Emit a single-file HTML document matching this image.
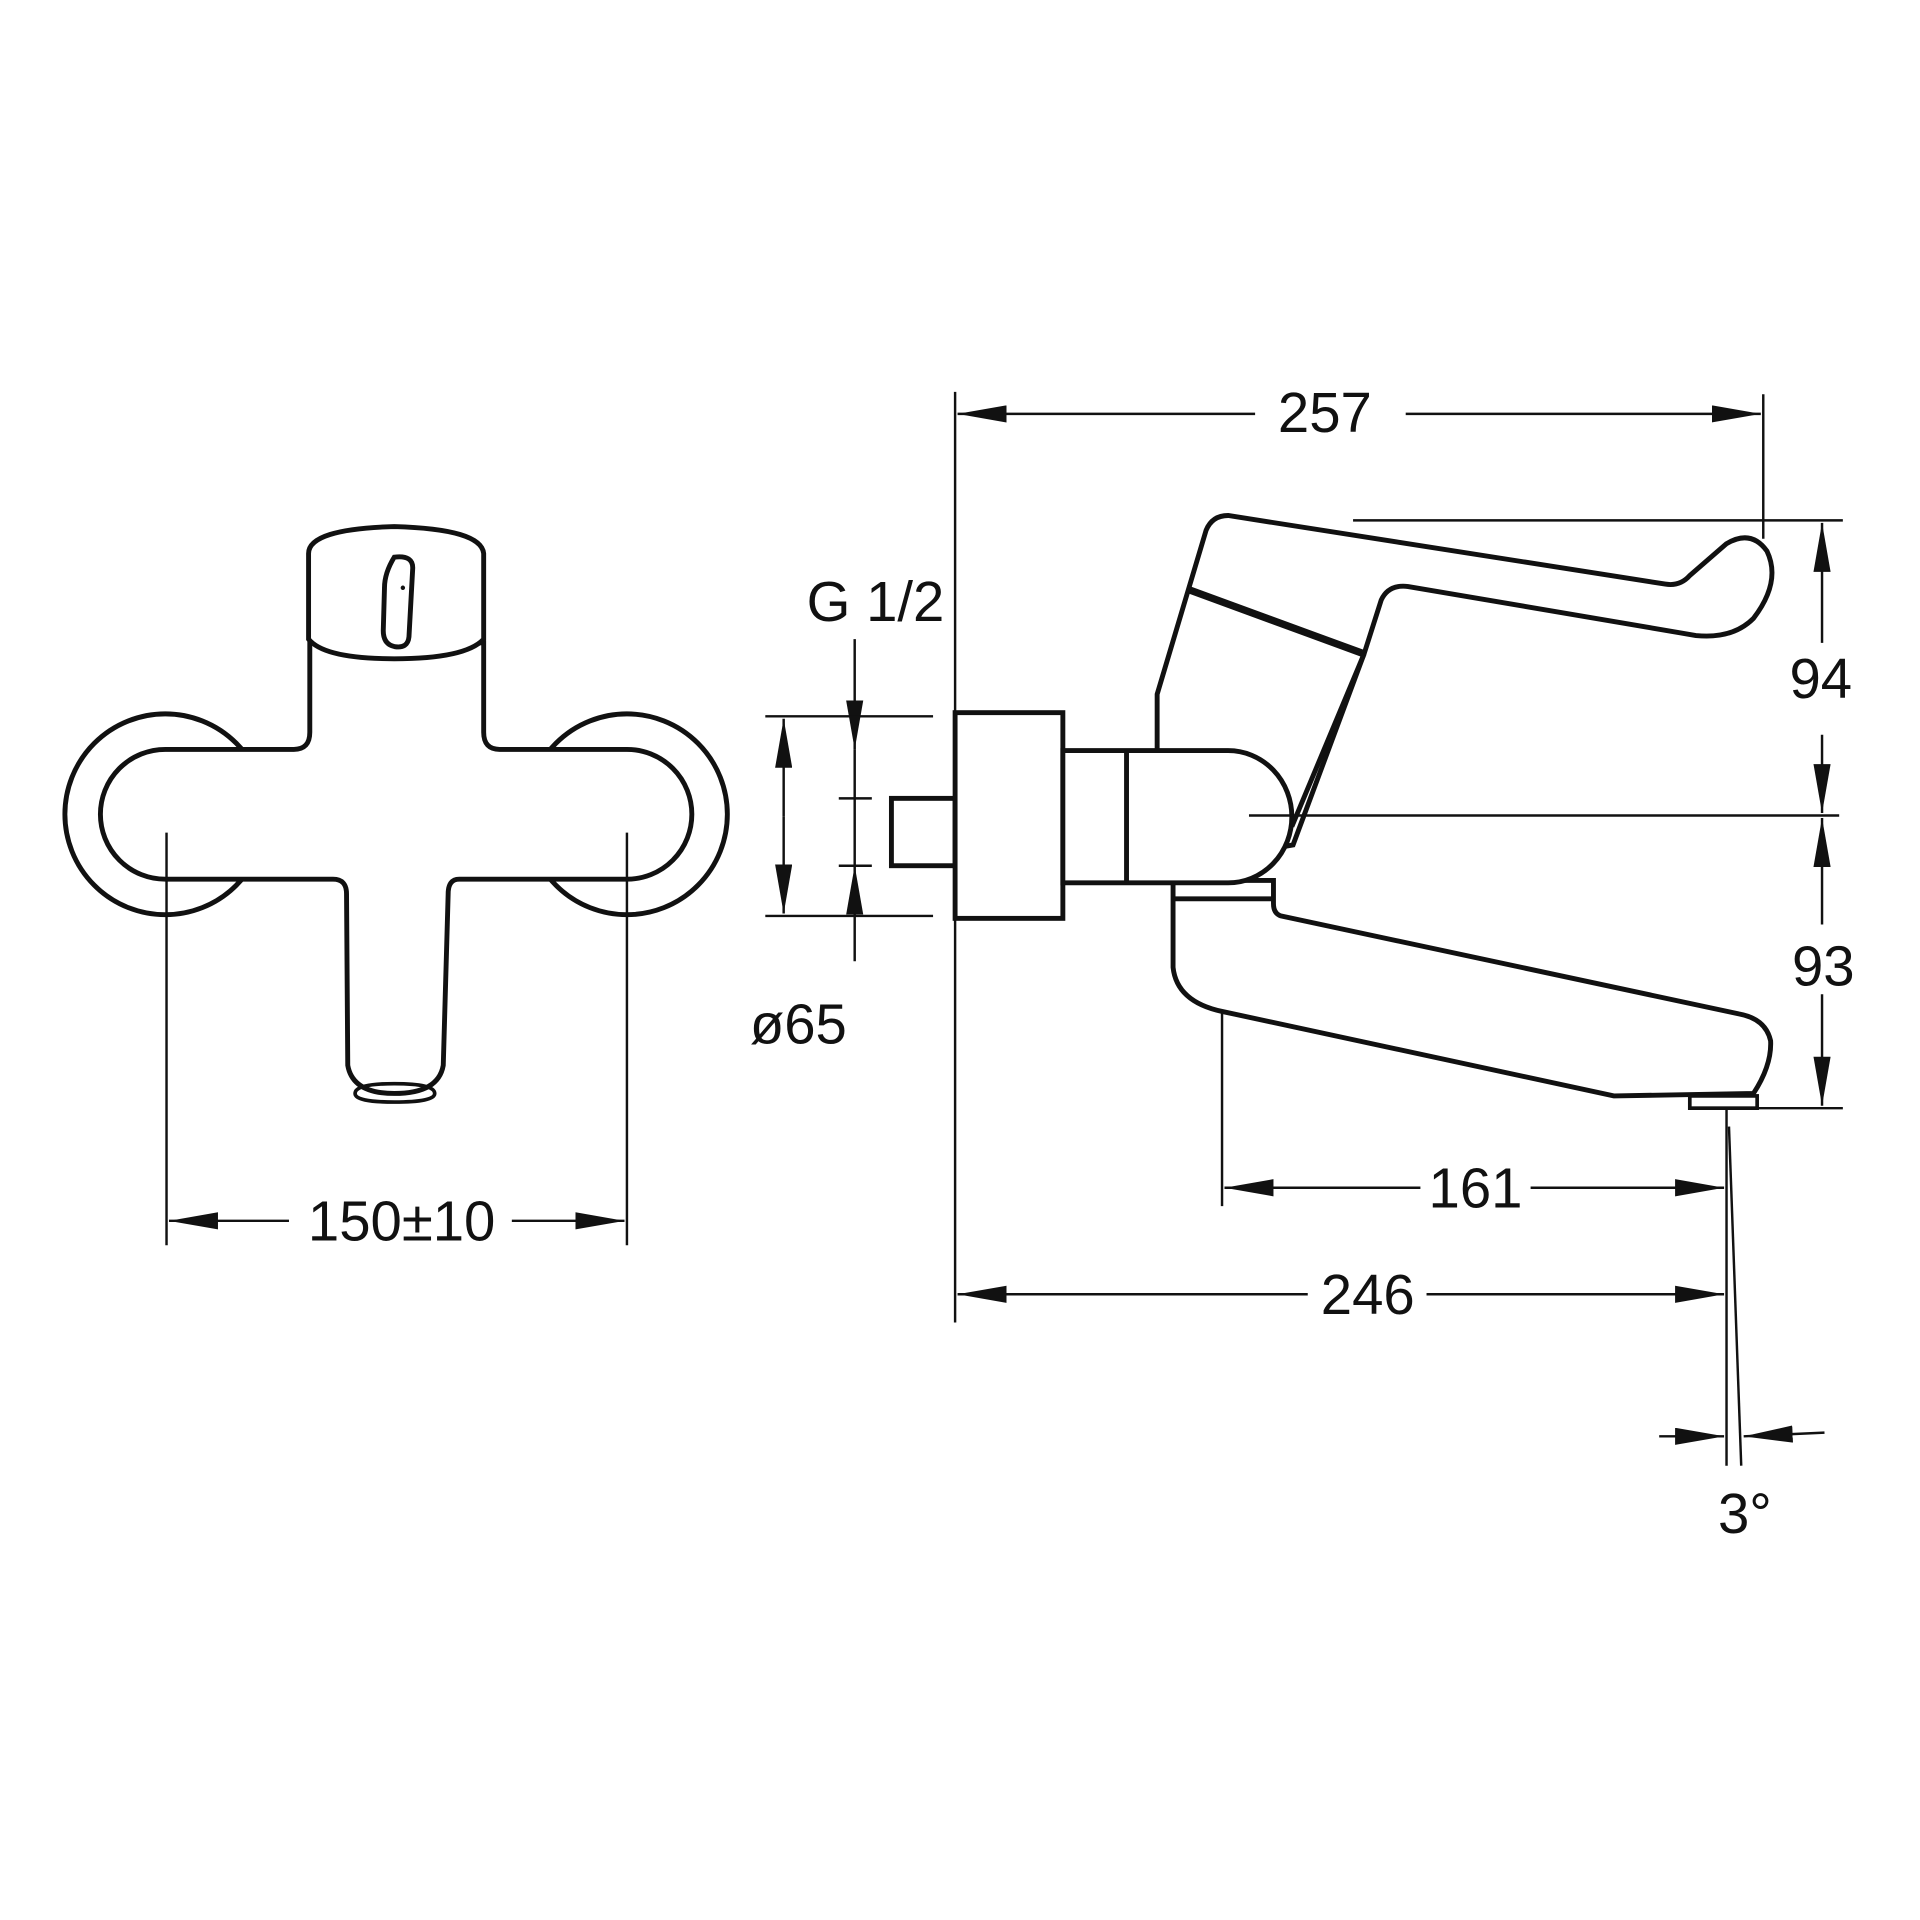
<!DOCTYPE html>
<html><head><meta charset="utf-8"><style>html,body{margin:0;padding:0;background:#fff}svg{display:block}</style></head>
<body>
<svg width="1920" height="1920" viewBox="0 0 1568 1568" xmlns="http://www.w3.org/2000/svg" font-family="Liberation Sans, sans-serif" font-size="46" fill="none" stroke="#111">
<defs>
<marker id="a" viewBox="0 0 40 14" refX="40" refY="7" markerWidth="40" markerHeight="14" markerUnits="userSpaceOnUse" orient="auto-start-reverse"><path d="M0,0 L40,7 L0,14Z" fill="#111" stroke="none"/></marker>
</defs>
<!-- LEFT VIEW -->
<g stroke-width="4">
<circle cx="135" cy="665" r="82"/>
<circle cx="512" cy="665" r="82"/>
<path fill="#fff" d="M135,612 L240,612 Q253,612 253,598 L253,525 L395,525 L395,598 Q395,612 408,612 L512,612 A53,53 0 0 1 512,718 L375,718 Q366,718 366,730 L362,870 Q358,893 322,893 Q288,893 284,870 L283,730 Q283,718 272,718 L135,718 A53,53 0 0 1 135,612Z"/>
<path fill="#fff" d="M252,522 L252,452 Q252,432 322,430 Q393,432 395,452 L395,522 Q380,538 322,538 Q265,538 252,522Z"/>
<path d="M322,455 Q338,453 337,465 L334,520 Q333,530 322,528 Q313,526 313,515 L314,480 Q314,468 322,455Z"/>
<path d="M290,893 Q290,885 322,885 Q355,885 355,893 Q355,900 322,900 Q290,900 290,893Z" stroke-width="3"/>
</g>
<circle cx="329" cy="480" r="1.8" fill="#111" stroke="none"/>
<g stroke-width="2">
<line x1="136" y1="680" x2="136" y2="1017"/>
<line x1="512" y1="680" x2="512" y2="1017"/>
<line x1="236" y1="997" x2="138" y2="997" marker-end="url(#a)"/>
<line x1="418" y1="997" x2="510" y2="997" marker-end="url(#a)"/>
</g>
<text x="328" y="1013" text-anchor="middle" fill="#111" stroke="none">150±10</text>

<!-- RIGHT VIEW -->
<g stroke-width="2">
<line x1="780" y1="320" x2="780" y2="1080"/>
<line x1="1440" y1="322" x2="1440" y2="440"/>
<line x1="1025" y1="338" x2="782" y2="338" marker-end="url(#a)"/>
<line x1="1148" y1="338" x2="1438" y2="338" marker-end="url(#a)"/>
<line x1="698" y1="522" x2="698" y2="612" marker-end="url(#a)"/>
<line x1="698" y1="785" x2="698" y2="707" marker-end="url(#a)"/>
<line x1="698" y1="612" x2="698" y2="707"/>
<line x1="685" y1="652" x2="712" y2="652"/>
<line x1="685" y1="707" x2="712" y2="707"/>
<line x1="625" y1="585" x2="762" y2="585"/>
<line x1="625" y1="748" x2="762" y2="748"/>
<line x1="640" y1="667" x2="640" y2="587" marker-end="url(#a)"/>
<line x1="640" y1="667" x2="640" y2="746" marker-end="url(#a)"/>
<line x1="1105" y1="425" x2="1505" y2="425"/>
<line x1="1488" y1="525" x2="1488" y2="427" marker-end="url(#a)"/>
<line x1="1488" y1="600" x2="1488" y2="664" marker-end="url(#a)"/>
<line x1="1488" y1="755" x2="1488" y2="668" marker-end="url(#a)"/>
<line x1="1488" y1="812" x2="1488" y2="903" marker-end="url(#a)"/>
<line x1="998" y1="795" x2="998" y2="985"/>
<line x1="1160" y1="970" x2="1000" y2="970" marker-end="url(#a)"/>
<line x1="1250" y1="970" x2="1408" y2="970" marker-end="url(#a)"/>
<line x1="1068" y1="1057" x2="782" y2="1057" marker-end="url(#a)"/>
<line x1="1165" y1="1057" x2="1408" y2="1057" marker-end="url(#a)"/>
<line x1="1410" y1="900" x2="1410" y2="1197"/>
<line x1="1412" y1="920" x2="1422" y2="1197"/>
<line x1="1355" y1="1173" x2="1408" y2="1173" marker-end="url(#a)"/>
<line x1="1490" y1="1170" x2="1424" y2="1173" marker-end="url(#a)"/>
</g>
<g stroke-width="4" fill="#fff">
<rect x="728" y="652" width="52" height="55"/>
<rect x="780" y="582" width="88" height="168"/>
<path d="M958,719 L958,790 Q961,818 998,826 L1318,895 L1432,893 Q1447,870 1446,850 Q1442,832 1420,828 L1046,748 Q1040,746 1040,738 L1040,719Z"/>
<line x1="958" y1="734" x2="1040" y2="734"/>
<rect x="1380" y="895" width="55" height="10" stroke-width="3"/>
<path d="M945,614 L945,567 L985,433 Q990,421 1003,421 L1360,477 Q1372,479 1380,470 L1410,444 Q1430,432 1443,450 Q1455,475 1432,505 Q1415,522 1385,519 L1150,479 Q1134,477 1128,490 L1114,534 L1056,690 L1000,700 Z"/>
<path d="M868,613 L1003,613 A52,54 0 0 1 1003,721 L868,721Z"/>
<line x1="920" y1="613" x2="920" y2="721"/>
<path d="M972,482 L1114,534" fill="none" stroke-width="6"/>
<path d="M1055,675 L1114,534" fill="none"/>
<line x1="1020" y1="666" x2="1502" y2="666" stroke-width="2"/>
<line x1="1430" y1="905" x2="1505" y2="905" stroke-width="2"/>
</g>
<g fill="#111" stroke="none">
<text x="1082" y="353" text-anchor="middle">257</text>
<text x="715" y="507" text-anchor="middle">G 1/2</text>
<text x="652" y="852" text-anchor="middle">ø65</text>
<text x="1487" y="570" text-anchor="middle">94</text>
<text x="1489" y="805" text-anchor="middle">93</text>
<text x="1205" y="986" text-anchor="middle">161</text>
<text x="1117" y="1073" text-anchor="middle">246</text>
<text x="1425" y="1252" text-anchor="middle">3°</text>
</g>
</svg>
</body></html>
